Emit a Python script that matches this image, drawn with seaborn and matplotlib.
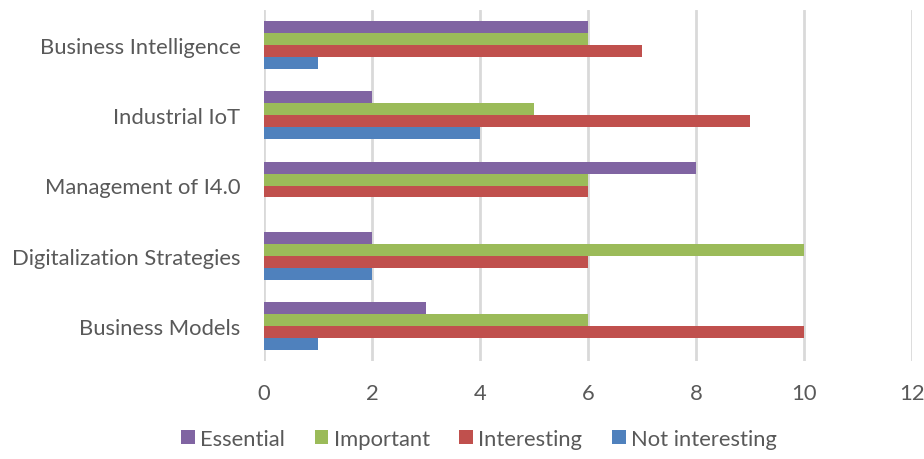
import matplotlib
matplotlib.use("Agg")
import matplotlib.pyplot as plt
import seaborn as sns
import pandas as pd

categories = ["Business Intelligence", "Industrial IoT", "Management of I4.0",
              "Digitalization Strategies", "Business Models"]
series = ["Essential", "Important", "Interesting", "Not interesting"]
essential = [6, 2, 8, 2, 3]
important = [6, 5, 6, 10, 6]
interesting = [7, 9, 6, 6, 10]
not_interesting = [1, 4, 0, 2, 1]
x_ticks = [0, 2, 4, 6, 8, 10, 12]

colors = ["#8064A2", "#9BBB59", "#C0504D", "#4F81BD"]

rows = []
for name, vals in zip(series, [essential, important, interesting, not_interesting]):
    for cat, v in zip(categories, vals):
        rows.append({"Topic": cat, "Rating": name, "Count": v})
df = pd.DataFrame(rows)

sns.set_theme(style="white")
plt.rcParams["font.family"] = ["Lato", "DejaVu Sans"]
text_color = "#595959"
fs = 15.8

fig = plt.figure(figsize=(9.24, 4.60), dpi=100)
ax = fig.add_axes([264 / 924, 1 - 362 / 460, 648 / 924, 351 / 460])

sns.barplot(data=df, y="Topic", x="Count", hue="Rating", order=categories,
            hue_order=series, palette=colors, orient="h", width=0.68,
            saturation=1, ax=ax, legend=True, edgecolor="none")

ax.set_xlim(0, 12)
ax.set_xticks(x_ticks)
ax.set_xticklabels([str(t) for t in x_ticks])
ax.set_xlabel("")
ax.set_ylabel("")
ax.grid(axis="x", color="#D9D9D9", linewidth=2)
ax.set_axisbelow(True)
for s in ax.spines.values():
    s.set_visible(False)
ax.tick_params(axis="both", length=0, colors=text_color, labelsize=fs)
ax.tick_params(axis="x", pad=16)
ax.tick_params(axis="y", pad=17)

handles, labels = ax.get_legend_handles_labels()
ax.legend_.remove()
fig.legend(handles, labels, loc="center", bbox_to_anchor=(479 / 924, 1 - 440 / 460),
           ncol=4, frameon=False, fontsize=fs, labelcolor=text_color,
           handlelength=0.62, handleheight=0.62, handletextpad=0.25, columnspacing=1.35)

fig.savefig("out.png", dpi=100)
